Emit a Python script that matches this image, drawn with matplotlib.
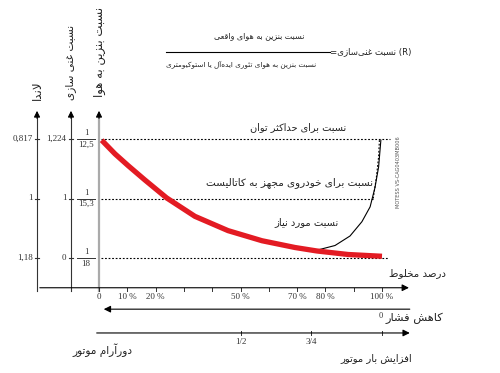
import matplotlib
matplotlib.use('Agg')
import matplotlib.pyplot as plt

plt.rcParams['font.family'] = ['DejaVu Sans']

# --- data ---
# mixture percentage (x) vs. position on the ratio scale (0 = 1/18, 1 = 1/15.3, 2 = 1/12.5)
ratio_pos = [2, 1, 0]
lambda_labels = ['0,817', '1', '1,18']
enrich_labels = ['1,224', '1', '0']
afr_denoms = ['12,5', '15,3', '18']

red_pct = [0.95, 5.65, 10.35, 16.25, 23.9, 33.9, 45.6, 57.6, 69.3, 77.0, 88.0, 100.0]
red_pos = [1.98, 1.75, 1.55, 1.31, 1.01, 0.70, 0.46, 0.29, 0.176, 0.118, 0.059, 0.029]

need_pct = [76.9, 83.4, 88.7, 92.9, 95.8, 97.5, 98.8, 99.6]
need_pos = [0.13, 0.21, 0.37, 0.61, 0.86, 1.18, 1.53, 1.98]

cat_pct = [96.9, 98.0, 98.8, 99.1]
cat_pos = [1.0, 1.35, 1.7, 2.0]

mix_ticks = [0, 10, 20, 30, 40, 50, 60, 70, 80, 90, 100]
mix_labels = ['0', '10 %', '20 %', '', '', '50 %', '', '70 %', '80 %', '', '100 %']
load_ticks = [50, 75, 100]
load_labels = ['1/2', '3/4', '']

# --- minimal Persian shaping (matplotlib draws glyphs left to right, unjoined) ---
FORMS = {
    'ا': ('\uFE8D', '\uFE8E', None, None), 'آ': ('\uFE81', '\uFE82', None, None),
    'ب': ('\uFE8F', '\uFE90', '\uFE91', '\uFE92'), 'ت': ('\uFE95', '\uFE96', '\uFE97', '\uFE98'),
    'ث': ('\uFE99', '\uFE9A', '\uFE9B', '\uFE9C'),
    'ج': ('\uFE9D', '\uFE9E', '\uFE9F', '\uFEA0'), 'ح': ('\uFEA1', '\uFEA2', '\uFEA3', '\uFEA4'),
    'خ': ('\uFEA5', '\uFEA6', '\uFEA7', '\uFEA8'), 'د': ('\uFEA9', '\uFEAA', None, None),
    'ر': ('\uFEAD', '\uFEAE', None, None), 'ز': ('\uFEAF', '\uFEB0', None, None),
    'س': ('\uFEB1', '\uFEB2', '\uFEB3', '\uFEB4'), 'ش': ('\uFEB5', '\uFEB6', '\uFEB7', '\uFEB8'),
    'ص': ('\uFEB9', '\uFEBA', '\uFEBB', '\uFEBC'), 'ط': ('\uFEC1', '\uFEC2', '\uFEC3', '\uFEC4'),
    'ع': ('\uFEC9', '\uFECA', '\uFECB', '\uFECC'), 'غ': ('\uFECD', '\uFECE', '\uFECF', '\uFED0'),
    'ف': ('\uFED1', '\uFED2', '\uFED3', '\uFED4'), 'ق': ('\uFED5', '\uFED6', '\uFED7', '\uFED8'),
    'ل': ('\uFEDD', '\uFEDE', '\uFEDF', '\uFEE0'), 'م': ('\uFEE1', '\uFEE2', '\uFEE3', '\uFEE4'),
    'ن': ('\uFEE5', '\uFEE6', '\uFEE7', '\uFEE8'), 'ه': ('\uFEE9', '\uFEEA', '\uFEEB', '\uFEEC'),
    'و': ('\uFEED', '\uFEEE', None, None), 'ئ': ('\uFE89', '\uFE8A', '\uFE8B', '\uFE8C'),
    'ی': ('\uFBFC', '\uFBFD', '\uFBFE', '\uFBFF'), 'ک': ('\uFB8E', '\uFB8F', '\uFB90', '\uFB91'),
}


def dual(c):
    return c in FORMS and FORMS[c][2] is not None


def fa(text):
    out = []
    i = 0
    while i < len(text):
        c = text[i]
        if c not in FORMS:
            out.append('' if c == '\u200c' else c)
            i += 1
            continue
        jp = i > 0 and dual(text[i - 1])
        if c == 'ل' and i + 1 < len(text) and text[i + 1] in 'اآ':
            lig = ('\uFEFB', '\uFEFC') if text[i + 1] == 'ا' else ('\uFEF5', '\uFEF6')
            out.append(lig[1] if jp else lig[0])
            i += 2
            continue
        jn = dual(c) and i + 1 < len(text) and text[i + 1] in FORMS
        f = FORMS[c]
        out.append(f[3] if jp and jn else f[1] if jp else f[2] if jn else f[0])
        i += 1
    return ''.join(reversed(out))


# --- figure: one axes over the whole canvas, x in % mixture, y in ratio-scale units ---
fig = plt.figure(figsize=(5, 3.73), dpi=100)
ax = fig.add_axes([0, 0, 1, 1])
ax.set_xlim(-99 / 2.83, 401 / 2.83)
ax.set_ylim(-115 / 59.5, 258 / 59.5)
ax.axis('off')

serif = 'Liberation Serif'
dot = (0, (1.6, 1.6))
ink = '#222222'
lam_x, enr_x, afr_x = -21.9, -9.9, 0.0
base_y = -0.50

# vertical scales
for x, col, lw in [(lam_x, '#333333', 0.8), (enr_x, '#333333', 0.8), (afr_x, '#aaaaaa', 1.6)]:
    ax.plot([x, x], [base_y - 0.06, 2.4], color=col, lw=lw)
    ax.annotate('', xy=(x, 2.52), xytext=(x, 2.3),
                arrowprops=dict(arrowstyle='-|>', color='black', lw=0.8, mutation_scale=9))

for p, a, b, d in zip(ratio_pos, lambda_labels, enrich_labels, afr_denoms):
    ax.plot([lam_x - 0.8, lam_x + 0.8], [p, p], color='#333333', lw=0.8)
    ax.plot([enr_x - 0.8, enr_x + 0.8], [p, p], color='#333333', lw=0.8)
    ax.text(lam_x - 1.6, p, a, ha='right', va='center', fontsize=6.5, family=serif, color='#333333')
    ax.text(enr_x - 1.6, p, b, ha='right', va='center', fontsize=6.5, family=serif, color='#333333')
    ax.plot([-7.8, -1.4], [p, p], color='#333333', lw=0.7)
    ax.text(-4.6, p + 0.03, '1', ha='center', va='bottom', fontsize=6.3, family=serif, color='#333333')
    ax.text(-4.6, p - 0.03, d, ha='center', va='top', fontsize=6.5, family=serif, color='#333333')

ax.text(lam_x, 2.66, fa('لاندا'), rotation=90, ha='center', va='bottom', fontsize=8.5, color=ink)
ax.text(enr_x, 2.66, fa('نسبت غنی سازی'), rotation=90, ha='center', va='bottom', fontsize=7.6, color=ink)
ax.text(afr_x, 2.70, fa('نسبت بنزین به هوا'), rotation=90, ha='center', va='bottom', fontsize=8.4, color=ink)

# dotted reference levels
ax.plot([0.8, 102.8], [2, 2], color='black', lw=0.8, ls=dot)
ax.plot([0.8, 96.9], [1, 1], color='black', lw=0.8, ls=dot)
ax.plot([0.8, 102.0], [0, 0], color='black', lw=0.8, ls=dot)
ax.plot(cat_pct, cat_pos, color='black', lw=0.8, ls=dot)

# curves
ax.plot(need_pct, need_pos, color='black', lw=0.8)
ax.plot(red_pct, red_pos, color='#e31b23', lw=3.8, solid_capstyle='butt')

ax.text(70.2, 2.2, fa('نسبت برای حداکثر توان'), ha='center', va='center', fontsize=7, color=ink)
ax.text(67.2, 1.26, fa('نسبت برای خودروی مجهز به کاتالیست'), ha='center', va='center', fontsize=7.5, color=ink)
ax.text(73.4, 0.60, fa('نسبت مورد نیاز'), ha='center', va='center', fontsize=7.2, color=ink)
ax.text(122.6, -0.25, fa('درصد مخلوط'), ha='right', va='center', fontsize=7.4, color=ink)
ax.text(106, 1.45, 'MOTESS VS-CAG0403MB006', rotation=90, ha='center', va='center',
        fontsize=3.6, color='#555555')

# mixture axis
ax.annotate('', xy=(110.5, base_y), xytext=(lam_x, base_y),
            arrowprops=dict(arrowstyle='-|>', color='black', lw=0.8, mutation_scale=10))
for t in [lam_x, enr_x] + mix_ticks:
    ax.plot([t, t], [base_y, base_y - 0.05], color='#333333', lw=0.7)
for t, lab in zip(mix_ticks, mix_labels):
    ax.text(t, base_y - 0.09, lab, ha='center', va='top', fontsize=6.5, family=serif, color='#333333')

# pressure axis
p_y = -0.86
ax.annotate('', xy=(0.7, p_y), xytext=(110.8, p_y),
            arrowprops=dict(arrowstyle='-|>', color='black', lw=0.8, mutation_scale=10))
ax.text(99.6, p_y - 0.05, '0', ha='center', va='top', fontsize=6, family=serif, color='#333333')
ax.text(121.6, p_y - 0.16, fa('کاهش فشار'), ha='right', va='center', fontsize=8.2, color=ink)

# engine load axis
l_y = -1.26
ax.annotate('', xy=(110.8, l_y), xytext=(-1.8, l_y),
            arrowprops=dict(arrowstyle='-|>', color='black', lw=0.8, mutation_scale=10))
for t, lab in zip(load_ticks, load_labels):
    ax.plot([t, t], [l_y - 0.04, l_y + 0.04], color='#333333', lw=0.7)
    ax.text(t, l_y - 0.08, lab, ha='center', va='top', fontsize=6.5, family=serif, color='#333333')
ax.text(1.2, l_y - 0.29, fa('دورآرام موتور'), ha='center', va='center', fontsize=7.6, color=ink)
ax.text(110.8, l_y - 0.43, fa('افزایش بار موتور'), ha='right', va='center', fontsize=7.2, color=ink)

# formula
ax.text(56.5, 3.73, fa('نسبت بنزین به هوای واقعی'), ha='center', va='center', fontsize=5.8, color=ink)
ax.plot([23.7, 81.6], [3.47, 3.47], color='black', lw=0.8)
ax.text(81.6, 3.47, '=' + fa('نسبت غنی\u200cسازی') + ' (R)', ha='left', va='center', fontsize=6.2, color=ink)
ax.text(23.7, 3.26, fa('نسبت بنزین به هوای تئوری ایده\u200cآل یا استوکیومتری'), ha='left', va='center',
        fontsize=5.2, color=ink)

fig.savefig('out.png', dpi=100)
